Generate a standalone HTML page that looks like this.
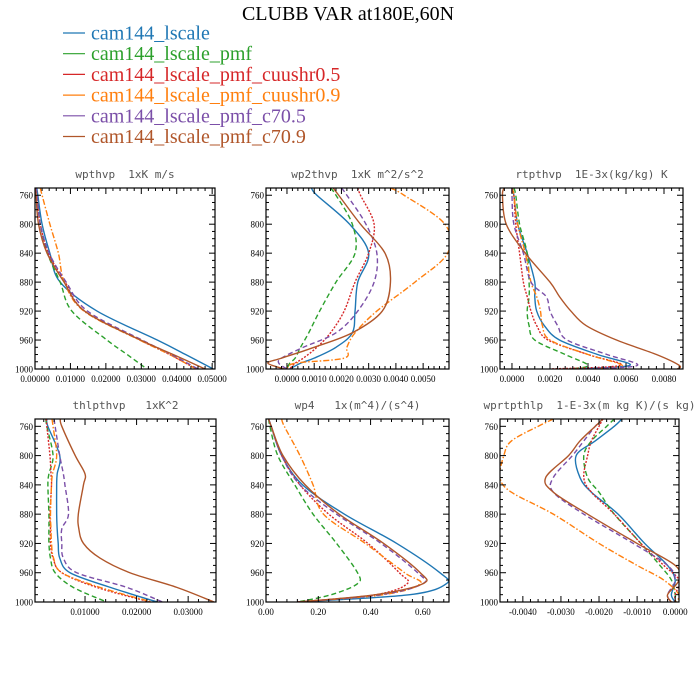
<!DOCTYPE html>
<html><head><meta charset="utf-8"><style>
body{margin:0;background:#fff;}
svg{display:block;font-family:"Liberation Serif",serif;}
.pt{font-family:"DejaVu Sans Mono","Liberation Mono",monospace;fill:#555;font-size:11px;white-space:pre;}
.tk{font-size:9px;fill:#000;}
</style></head><body>
<svg id="chart" width="700" height="700" viewBox="0 0 700 700">
<rect width="700" height="700" fill="#fff"/>
<text x="348" y="20" text-anchor="middle" font-size="20">CLUBB VAR at180E,60N</text>
<g id="legend"></g>
<g id="panels"></g>
</svg>
<script>
const seriesNames=["cam144_lscale","cam144_lscale_pmf","cam144_lscale_pmf_cuushr0.5","cam144_lscale_pmf_cuushr0.9","cam144_lscale_pmf_c70.5","cam144_lscale_pmf_c70.9"];
const colors=["#1f77b4","#2ca02c","#d62728","#ff7f0e","#7b4fa8","#b0562a"];
const dashes=["", "5,3", "2,1.5", "6,2,1.5,2", "5,3", ""];
const yTicks=[760,800,840,880,920,960,1000];

const p1Title="wpthvp  1xK m/s";
const p1Levels=[750,760,800,840,880,920,960,980,1000];
const p1Ticks=[0,0.01,0.02,0.03,0.04,0.05];
const p1Labels=["0.00000","0.01000","0.02000","0.03000","0.04000","0.05000"];
const p1Blue=[0.0005,0.0008,0.002,0.0042,0.0071,0.0175,0.0345,0.0425,0.0503];
const p1Green=[0.0003,0.0006,0.0015,0.0035,0.0071,0.0104,0.0203,0.026,0.0316];
const p1Red=[0.0002,0.0005,0.0015,0.0038,0.0085,0.014,0.0297,0.038,0.0455];
const p1Orange=[0.0015,0.002,0.0042,0.0066,0.0083,0.0138,0.0295,0.038,0.0455];
const p1Purple=[0.0003,0.0006,0.0015,0.004,0.0088,0.0148,0.0302,0.0385,0.046];
const p1Brown=[0.0,0.0003,0.001,0.0034,0.0082,0.014,0.0298,0.039,0.048];

const p2Title="wp2thvp  1xK m^2/s^2";
const p2Levels=[750,760,800,840,880,920,950,970,985,992,1000];
const p2Ticks=[0,0.001,0.002,0.003,0.004,0.005];
const p2Labels=["0.0000","0.0010","0.0020","0.0030","0.0040","0.0050"];
const p2Blue=[0.0009,0.0011,0.0023,0.003,0.0026,0.0025,0.0024,0.0018,0.001,0.0005,0.0001];
const p2Green=[0.0016,0.0018,0.0024,0.0025,0.0018,0.0012,0.0008,0.0005,0.0003,0.0001,0.0];
const p2Red=[0.0026,0.0027,0.0032,0.003,0.0025,0.0021,0.0016,0.0011,0.0006,0.0003,0.0001];
const p2Orange=[0.0038,0.0043,0.0058,0.0059,0.0047,0.0033,0.0025,0.0022,0.0021,0.0003,0.0];
const p2Purple=[0.002,0.0022,0.0029,0.0033,0.0032,0.0026,0.0018,0.0006,-0.0002,-0.0003,0.0];
const p2Brown=[0.0017,0.0019,0.0027,0.0036,0.0038,0.0035,0.0024,0.001,-0.0002,-0.0007,-0.0001];

const p3Title="rtpthvp  1E-3x(kg/kg) K";
const p3Levels=[750,760,800,840,880,900,920,940,960,980,995,1000];
const p3Ticks=[0,0.002,0.004,0.006,0.008];
const p3Labels=["0.0000","0.0020","0.0040","0.0060","0.0080"];
const p3Blue=[0.0,0.0001,0.0003,0.0008,0.0012,0.0012,0.0013,0.0017,0.0025,0.0045,0.0062,0.003];
const p3Green=[0.0001,0.0002,0.0004,0.0008,0.0009,0.0009,0.0008,0.0009,0.0012,0.0028,0.004,0.003];
const p3Red=[0.0,0.0001,0.0002,0.0004,0.0006,0.0008,0.001,0.0013,0.0019,0.004,0.0057,0.002];
const p3Orange=[0.0,0.0001,0.0003,0.0007,0.001,0.0013,0.0015,0.0016,0.002,0.004,0.0058,0.0045];
const p3Purple=[0.0,0.0,0.0001,0.0006,0.001,0.0018,0.002,0.0024,0.0029,0.005,0.0066,0.004];
const p3Brown=[-0.0004,-0.0005,-0.0003,0.0007,0.002,0.0025,0.0031,0.0039,0.0055,0.0076,0.0088,0.0087];

const p4Title="thlpthvp   1xK^2";
const p4Levels=[750,760,800,825,840,880,900,920,940,960,980,1000];
const p4Ticks=[0.01,0.02,0.03];
const p4Labels=["0.01000","0.02000","0.03000"];
const p4Blue=[0.0026,0.0028,0.0051,0.0046,0.0045,0.0045,0.0046,0.0048,0.0051,0.0071,0.0149,0.024];
const p4Green=[0.0024,0.0026,0.0038,0.003,0.0028,0.003,0.003,0.003,0.0033,0.0042,0.0077,0.0142];
const p4Red=[0.0025,0.0026,0.0032,0.0034,0.0035,0.0032,0.0033,0.0033,0.0038,0.0055,0.0123,0.0226];
const p4Orange=[0.0036,0.0038,0.0045,0.0037,0.0035,0.0033,0.0034,0.0035,0.0039,0.0055,0.0129,0.023];
const p4Purple=[0.004,0.0042,0.0051,0.0058,0.0061,0.0068,0.0055,0.0055,0.0058,0.0084,0.0181,0.025];
const p4Brown=[0.0052,0.0055,0.0081,0.01,0.0097,0.0087,0.0088,0.0097,0.0129,0.0187,0.0278,0.035];

const p5Title="wp4   1x(m^4)/(s^4)";
const p5Levels=[750,760,800,840,880,920,960,975,990,1000];
const p5Ticks=[0,0.2,0.4,0.6];
const p5Labels=["0.00","0.20","0.40","0.60"];
const p5Blue=[0.01,0.02,0.06,0.14,0.30,0.50,0.665,0.69,0.55,0.12];
const p5Green=[0.01,0.015,0.045,0.11,0.18,0.27,0.35,0.35,0.25,0.12];
const p5Red=[0.01,0.02,0.06,0.13,0.24,0.39,0.51,0.54,0.42,0.12];
const p5Orange=[0.06,0.07,0.13,0.18,0.22,0.38,0.53,0.59,0.45,0.12];
const p5Purple=[0.01,0.02,0.06,0.13,0.27,0.44,0.58,0.60,0.44,0.12];
const p5Brown=[0.01,0.02,0.065,0.15,0.28,0.45,0.59,0.60,0.42,0.12];

const p6Title="wprtpthlp  1-E-3x(m kg K)/(s kg)";
const p6Levels=[750,760,780,800,830,850,880,920,950,970,990,1000];
const p6Ticks=[-0.004,-0.003,-0.002,-0.001,0];
const p6Labels=["-0.0040","-0.0030","-0.0020","-0.0010","0.0000"];
const p6Blue=[-0.0014,-0.0016,-0.0021,-0.0026,-0.0025,-0.0022,-0.0015,-0.0008,-0.0002,0.0,-0.0001,0.0];
const p6Green=[-0.0016,-0.0018,-0.0022,-0.0024,-0.0023,-0.002,-0.0016,-0.0009,-0.0004,-0.0001,0.0,0.0];
const p6Red=[-0.0019,-0.002,-0.0022,-0.0023,-0.0024,-0.0022,-0.0016,-0.0009,-0.0003,0.0001,0.0,0.0];
const p6Orange=[-0.0032,-0.0036,-0.0043,-0.0045,-0.0046,-0.0043,-0.0032,-0.002,-0.001,-0.0003,0.0001,0.0];
const p6Purple=[-0.0019,-0.0021,-0.0024,-0.0027,-0.0032,-0.0032,-0.0024,-0.0011,-0.0002,0.0,-0.0002,-0.0001];
const p6Brown=[-0.0019,-0.0021,-0.0025,-0.0028,-0.0034,-0.0032,-0.0023,-0.001,0.0,0.0001,-0.0002,-0.0001];

const NS="http://www.w3.org/2000/svg";
function mk(tag,attrs,parent){const e=document.createElementNS(NS,tag);for(const k in attrs)e.setAttribute(k,attrs[k]);if(parent)parent.appendChild(e);return e;}

const panels=[
 {id:"wpthvp",title:p1Title,box:[35,188,215,369],xd:[0,0.0508],lv:p1Levels,ticks:p1Ticks,labels:p1Labels,s:[p1Blue,p1Green,p1Red,p1Orange,p1Purple,p1Brown]},
 {id:"wp2thvp",title:p2Title,box:[266,188,449,369],xd:[-0.00077,0.00595],lv:p2Levels,ticks:p2Ticks,labels:p2Labels,s:[p2Blue,p2Green,p2Red,p2Orange,p2Purple,p2Brown]},
 {id:"rtpthvp",title:p3Title,box:[500,188,683,369],xd:[-0.00063,0.009],lv:p3Levels,ticks:p3Ticks,labels:p3Labels,s:[p3Blue,p3Green,p3Red,p3Orange,p3Purple,p3Brown]},
 {id:"thlpthvp",title:p4Title,box:[35,419,216,602],xd:[0.0003,0.0354],lv:p4Levels,ticks:p4Ticks,labels:p4Labels,s:[p4Blue,p4Green,p4Red,p4Orange,p4Purple,p4Brown]},
 {id:"wp4",title:p5Title,box:[266,419,449,602],xd:[0,0.70],lv:p5Levels,ticks:p5Ticks,labels:p5Labels,s:[p5Blue,p5Green,p5Red,p5Orange,p5Purple,p5Brown]},
 {id:"wprtpthlp",title:p6Title,box:[500,419,679,602],xd:[-0.0046,0.0001],lv:p6Levels,ticks:p6Ticks,labels:p6Labels,s:[p6Blue,p6Green,p6Red,p6Orange,p6Purple,p6Brown]}
];

function smoothPath(pts){
 let d="M"+pts[0][0].toFixed(2)+","+pts[0][1].toFixed(2);
 for(let i=0;i<pts.length-1;i++){
  const p0=pts[Math.max(0,i-1)],p1=pts[i],p2=pts[i+1],p3=pts[Math.min(pts.length-1,i+2)];
  const c1=[p1[0]+(p2[0]-p0[0])/6,p1[1]+(p2[1]-p0[1])/6];
  const c2=[p2[0]-(p3[0]-p1[0])/6,p2[1]-(p3[1]-p1[1])/6];
  d+="C"+c1[0].toFixed(2)+","+c1[1].toFixed(2)+" "+c2[0].toFixed(2)+","+c2[1].toFixed(2)+" "+p2[0].toFixed(2)+","+p2[1].toFixed(2);
 }
 return d;
}

const root=document.getElementById("panels");
panels.forEach((p,pi)=>{
 const [x0,y0,x1,y1]=p.box;
 const xs=v=>x0+(v-p.xd[0])/(p.xd[1]-p.xd[0])*(x1-x0);
 const ys=v=>y0+(v-750)/(1000-750)*(y1-y0);
 const g=mk("g",{},root);
 
 
 const t=mk("text",{x:(x0+x1)/2,y:y0-10,"text-anchor":"middle",class:"pt"},g);
 
 
 t.textContent=p.title;
 const cp=mk("clipPath",{id:"clip"+pi},g);
 mk("rect",{x:x0,y:y0,width:x1-x0,height:y1-y0},cp);
 const cg=mk("g",{"clip-path":"url(#clip"+pi+")"},g);
 p.s.forEach((vals,si)=>{
  const pts=vals.map((v,i)=>[xs(v),ys(p.lv[i])]);
  const path=mk("path",{d:smoothPath(pts),fill:"none",stroke:colors[si],"stroke-width":1.4,"stroke-dasharray":dashes[si]||"none"},cg);
  
  
 });
 const fr=mk("rect",{x:x0,y:y0,width:x1-x0,height:y1-y0,fill:"none",stroke:"#000","stroke-width":1.2},g);
 
 
 const yg=mk("g",{},g);
 
 
 for(let v=750;v<=1000;v+=10){
  const y=ys(v),major=yTicks.includes(v),L=major?6:3;
  mk("line",{x1:x0,x2:x0+L,y1:y,y2:y,stroke:"#000","stroke-width":1},yg);
  mk("line",{x1:x1,x2:x1-L,y1:y,y2:y,stroke:"#000","stroke-width":1},yg);
 }
 yTicks.forEach(v=>{
  const tt=mk("text",{x:x0-2,y:ys(v)+3.5,"text-anchor":"end",class:"tk"},yg);
  
  
  tt.textContent=v;
 });
 const xg=mk("g",{},g);
 
 
 const step=p.ticks[1]-p.ticks[0];
 const minor=step/5;
 for(let k=Math.ceil(p.xd[0]/minor);k*minor<=p.xd[1];k++){
  const v=k*minor,x=xs(v);
  const maj=Math.abs(v/step-Math.round(v/step))<1e-6,L=maj?6:3;
  mk("line",{x1:x,x2:x,y1:y1,y2:y1-L,stroke:"#000","stroke-width":1},xg);
  mk("line",{x1:x,x2:x,y1:y0,y2:y0+L,stroke:"#000","stroke-width":1},xg);
 }
 p.ticks.forEach((v,i)=>{
  const tt=mk("text",{x:xs(v),y:y1+13,"text-anchor":"middle",class:"tk"},xg);
  
  
  tt.textContent=p.labels[i];
 });
});

const lg=document.getElementById("legend");
seriesNames.forEach((n,i)=>{
 const y=33+i*20.7;
 const e=mk("g",{},lg);
 
 
 mk("line",{x1:63,x2:85,y1:y,y2:y,stroke:colors[i],"stroke-width":1.2},e);
 const t=mk("text",{x:91,y:y+6.5,"font-size":20,fill:colors[i]},e);
 t.textContent=n;
});
</script>
</body></html>
